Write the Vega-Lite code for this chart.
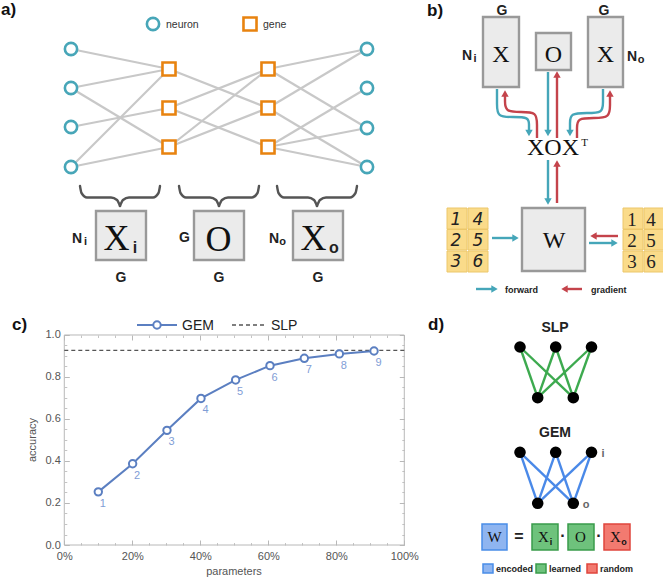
{
"$schema":"https://vega.github.io/schema/vega-lite/v6.json",
"width":663,"height":579,"padding":0,"autosize":"none",
"config":{"view":{"stroke":null},"font":"Liberation Sans"},
"datasets":{
"aEdges":[
{"x":71,"y":49,"x2":169,"y2":69},{"x":71,"y":88,"x2":169,"y2":69},{"x":71,"y":88,"x2":169,"y2":147},{"x":71,"y":127,"x2":169,"y2":108},{"x":71,"y":167,"x2":169,"y2":69},{"x":71,"y":167,"x2":169,"y2":147},
{"x":169,"y":69,"x2":268,"y2":108},{"x":169,"y":108,"x2":268,"y2":69},{"x":169,"y":108,"x2":268,"y2":147},{"x":169,"y":147,"x2":268,"y2":69},{"x":169,"y":147,"x2":268,"y2":108},
{"x":268,"y":69,"x2":367,"y2":49},{"x":268,"y":69,"x2":367,"y2":128},{"x":268,"y":108,"x2":367,"y2":49},{"x":268,"y":108,"x2":367,"y2":167},{"x":268,"y":147,"x2":367,"y2":88},{"x":268,"y":147,"x2":367,"y2":128},{"x":268,"y":147,"x2":367,"y2":167}],
"neurons":[{"x":71,"y":49},{"x":71,"y":88},{"x":71,"y":127},{"x":71,"y":167},{"x":367,"y":49},{"x":367,"y":88},{"x":367,"y":128},{"x":367,"y":167},{"x":153,"y":24}],
"genes":[{"x":169,"y":69},{"x":169,"y":108},{"x":169,"y":147},{"x":268,"y":69},{"x":268,"y":108},{"x":268,"y":147},{"x":250,"y":24}],
"braces":[
{"id":"1L","i":0,"x":80,"y":186},{"id":"1L","i":1,"x":81.5,"y":193},{"id":"1L","i":2,"x":87,"y":197.5},{"id":"1L","i":3,"x":111,"y":197.5},{"id":"1L","i":4,"x":117,"y":200},{"id":"1L","i":5,"x":120,"y":206},
{"id":"1R","i":0,"x":120,"y":206},{"id":"1R","i":1,"x":123,"y":200},{"id":"1R","i":2,"x":129,"y":197.5},{"id":"1R","i":3,"x":153,"y":197.5},{"id":"1R","i":4,"x":158.5,"y":193},{"id":"1R","i":5,"x":160,"y":186},
{"id":"2L","i":0,"x":179,"y":186},{"id":"2L","i":1,"x":180.5,"y":193},{"id":"2L","i":2,"x":186,"y":197.5},{"id":"2L","i":3,"x":210,"y":197.5},{"id":"2L","i":4,"x":216,"y":200},{"id":"2L","i":5,"x":219,"y":206},
{"id":"2R","i":0,"x":219,"y":206},{"id":"2R","i":1,"x":222,"y":200},{"id":"2R","i":2,"x":228,"y":197.5},{"id":"2R","i":3,"x":252,"y":197.5},{"id":"2R","i":4,"x":257.5,"y":193},{"id":"2R","i":5,"x":259,"y":186},
{"id":"3L","i":0,"x":277,"y":186},{"id":"3L","i":1,"x":278.5,"y":193},{"id":"3L","i":2,"x":284,"y":197.5},{"id":"3L","i":3,"x":308,"y":197.5},{"id":"3L","i":4,"x":314,"y":200},{"id":"3L","i":5,"x":317,"y":206},
{"id":"3R","i":0,"x":317,"y":206},{"id":"3R","i":1,"x":320,"y":200},{"id":"3R","i":2,"x":326,"y":197.5},{"id":"3R","i":3,"x":350,"y":197.5},{"id":"3R","i":4,"x":355.5,"y":193},{"id":"3R","i":5,"x":357,"y":186}],
"boxes":[{"x":96,"x2":146,"y":211,"y2":260},{"x":194,"x2":244,"y":211,"y2":260},{"x":293,"x2":343,"y":211,"y2":260},
{"x":483,"x2":519,"y":17,"y2":87},{"x":536,"x2":571,"y":33,"y2":70},{"x":588,"x2":623,"y":17,"y2":87},{"x":522,"x2":585,"y":208,"y2":271}],
"cells":[{"x":447,"x2":467,"y":208,"y2":229},{"x":468,"x2":488,"y":208,"y2":229},{"x":447,"x2":467,"y":229.5,"y2":250},{"x":468,"x2":488,"y":229.5,"y2":250},{"x":447,"x2":467,"y":251,"y2":272},{"x":468,"x2":488,"y":251,"y2":272},
{"x":623,"x2":643,"y":208,"y2":229},{"x":644,"x2":664,"y":208,"y2":229},{"x":623,"x2":643,"y":229.5,"y2":250},{"x":644,"x2":664,"y":229.5,"y2":250},{"x":623,"x2":643,"y":251,"y2":272},{"x":644,"x2":664,"y":251,"y2":272}],
"digitsL":[{"x":456,"y":225,"t":"1"},{"x":478,"y":225,"t":"4"},{"x":456,"y":246,"t":"2"},{"x":478,"y":246,"t":"5"},{"x":456,"y":267,"t":"3"},{"x":478,"y":267,"t":"6"}],
"digitsR":[{"x":632,"y":226,"t":"1"},{"x":651,"y":226,"t":"4"},{"x":632,"y":247,"t":"2"},{"x":651,"y":247,"t":"5"},{"x":632,"y":268,"t":"3"},{"x":651,"y":268,"t":"6"}],
"arrowsF":[
{"id":"f1","i":0,"x":497,"y":89},{"id":"f1","i":1,"x":497,"y":104},{"id":"f1","i":2,"x":497,"y":117},{"id":"f1","i":3,"x":513,"y":117},{"id":"f1","i":4,"x":529,"y":117},{"id":"f1","i":5,"x":529,"y":125},{"id":"f1","i":6,"x":529,"y":130},
{"id":"f2","i":0,"x":548,"y":72},{"id":"f2","i":1,"x":548,"y":130},
{"id":"f3","i":0,"x":603,"y":89},{"id":"f3","i":1,"x":603,"y":102},{"id":"f3","i":2,"x":603,"y":113},{"id":"f3","i":3,"x":587,"y":113},{"id":"f3","i":4,"x":570,"y":113},{"id":"f3","i":5,"x":570,"y":124},{"id":"f3","i":6,"x":570,"y":130},
{"id":"f4","i":0,"x":548,"y":160},{"id":"f4","i":1,"x":548,"y":199},
{"id":"f5","i":0,"x":492,"y":238},{"id":"f5","i":1,"x":513,"y":238},
{"id":"f6","i":0,"x":589,"y":243},{"id":"f6","i":1,"x":612,"y":243},
{"id":"f7","i":0,"x":476,"y":289},{"id":"f7","i":1,"x":492,"y":289}],
"arrowsG":[
{"id":"g1","i":0,"x":537,"y":138},{"id":"g1","i":1,"x":537,"y":125},{"id":"g1","i":2,"x":537,"y":112},{"id":"g1","i":3,"x":521,"y":112},{"id":"g1","i":4,"x":505,"y":112},{"id":"g1","i":5,"x":505,"y":100},{"id":"g1","i":6,"x":505,"y":96},
{"id":"g2","i":0,"x":557,"y":138},{"id":"g2","i":1,"x":557,"y":77},
{"id":"g3","i":0,"x":577,"y":138},{"id":"g3","i":1,"x":577,"y":128},{"id":"g3","i":2,"x":577,"y":118},{"id":"g3","i":3,"x":594,"y":118},{"id":"g3","i":4,"x":610,"y":118},{"id":"g3","i":5,"x":610,"y":104},{"id":"g3","i":6,"x":610,"y":96},
{"id":"g4","i":0,"x":557,"y":203},{"id":"g4","i":1,"x":557,"y":166},
{"id":"g5","i":0,"x":618,"y":236},{"id":"g5","i":1,"x":596,"y":236},
{"id":"g6","i":0,"x":582,"y":289},{"id":"g6","i":1,"x":567,"y":289}],
"headsF":[{"x":529,"y":133,"s":"down"},{"x":548,"y":133,"s":"down"},{"x":570,"y":133,"s":"down"},{"x":548,"y":201.5,"s":"down"},{"x":515.5,"y":238,"s":"right"},{"x":614.5,"y":243,"s":"right"},{"x":494.5,"y":289,"s":"right"}],
"headsG":[{"x":505,"y":93.5,"s":"up"},{"x":557,"y":74.5,"s":"up"},{"x":610,"y":93.5,"s":"up"},{"x":557,"y":163.5,"s":"up"},{"x":593.5,"y":236,"s":"left"},{"x":564.5,"y":289,"s":"left"}],
"dNodes":[{"x":520,"y":347},{"x":555.7,"y":347},{"x":591.5,"y":347},{"x":537.7,"y":397.7},{"x":573.3,"y":397.7},{"x":520,"y":452.3},{"x":555.7,"y":452.3},{"x":591.5,"y":452.3},{"x":537.7,"y":503.3},{"x":573.3,"y":503.3}],
"dEdgesG":[{"x":520,"y":347,"x2":537.7,"y2":397.7},{"x":520,"y":347,"x2":573.3,"y2":397.7},{"x":555.7,"y":347,"x2":537.7,"y2":397.7},{"x":555.7,"y":347,"x2":573.3,"y2":397.7},{"x":591.5,"y":347,"x2":537.7,"y2":397.7},{"x":591.5,"y":347,"x2":573.3,"y2":397.7}],
"dEdgesB":[{"x":520,"y":452.3,"x2":537.7,"y2":503.3},{"x":520,"y":452.3,"x2":573.3,"y2":503.3},{"x":555.7,"y":452.3,"x2":537.7,"y2":503.3},{"x":555.7,"y":452.3,"x2":573.3,"y2":503.3},{"x":591.5,"y":452.3,"x2":537.7,"y2":503.3},{"x":591.5,"y":452.3,"x2":573.3,"y2":503.3}],
"eqB":[{"x":482,"x2":507,"y":524,"y2":550},{"x":483,"x2":493,"y":564,"y2":573}],
"eqG":[{"x":532,"x2":558,"y":524,"y2":550},{"x":568,"x2":594,"y":524,"y2":550},{"x":536,"x2":546,"y":564,"y2":573}],
"eqR":[{"x":604,"x2":630,"y":524,"y2":550},{"x":587,"x2":597,"y":564,"y2":573}],
"tLetters":[{"x":1,"y":15,"t":"a)"},{"x":427,"y":16,"t":"b)"},{"x":12,"y":330,"t":"c)"},{"x":428,"y":330,"t":"d)"}],
"tBold14":[{"x":77,"y":243,"t":"N"},{"x":184.5,"y":242,"t":"G"},{"x":274,"y":243,"t":"N"},{"x":121,"y":282,"t":"G"},{"x":219,"y":282,"t":"G"},{"x":318,"y":282,"t":"G"},{"x":502,"y":15,"t":"G"},{"x":604,"y":15,"t":"G"},{"x":467,"y":60,"t":"N"},{"x":632,"y":61,"t":"N"},{"x":555,"y":332,"t":"SLP"},{"x":555,"y":437,"t":"GEM"}],
"tSub11":[{"x":85.5,"y":245,"t":"i"},{"x":282.5,"y":245,"t":"o"},{"x":475,"y":62,"t":"i"},{"x":641,"y":63,"t":"o"}],
"tSub16":[{"x":135,"y":253,"t":"i"},{"x":334,"y":253,"t":"o"}],
"tSerif36":[{"x":116.5,"y":250,"t":"X"},{"x":218.5,"y":251,"t":"O"},{"x":313.5,"y":250,"t":"X"}],
"tSerif24":[{"x":501,"y":62,"t":"X"},{"x":553.5,"y":62,"t":"O"},{"x":605.5,"y":62,"t":"X"},{"x":553,"y":155,"t":"XOX"},{"x":554,"y":248,"t":"W"}],
"tSup":[{"x":584.5,"y":146,"t":"T"}],
"tSerif15":[{"x":494.5,"y":542,"t":"W"},{"x":543.5,"y":542,"t":"X"},{"x":580.5,"y":542,"t":"O"},{"x":615.5,"y":542,"t":"X"}],
"tSub9":[{"x":551,"y":545,"t":"i"},{"x":624,"y":545,"t":"o"}],
"tOps":[{"x":519,"y":542,"t":"="},{"x":563,"y":541,"t":"·"},{"x":599,"y":541,"t":"·"}],
"tLegA":[{"x":166,"y":28,"t":"neuron"},{"x":263,"y":28,"t":"gene"}],
"tBold9":[{"x":505,"y":293,"t":"forward"},{"x":591,"y":293,"t":"gradient"},{"x":496,"y":572,"t":"encoded"},{"x":549,"y":572,"t":"learned"},{"x":600,"y":572,"t":"random"}],
"tGray":[{"x":603,"y":457,"t":"i"},{"x":586,"y":508,"t":"o"}],
"tLegC":[{"x":182,"y":330,"t":"GEM"},{"x":271,"y":330,"t":"SLP"}],
"tXTitle":[{"x":234,"y":575,"t":"parameters"}],
"tYTitle":[{"x":33,"y":440,"t":"accuracy"}],
"legLine":[{"x":137,"y":325,"x2":177,"y2":325}],
"legPt":[{"x":157,"y":325}],
"legDash":[{"x":232,"y":325,"x2":266,"y2":325}],
"gem":[{"n":1,"p":10,"acc":0.253},{"n":2,"p":20.1,"acc":0.387},{"n":3,"p":30.2,"acc":0.546},{"n":4,"p":40.2,"acc":0.698},{"n":5,"p":50.4,"acc":0.786},{"n":6,"p":60.5,"acc":0.854},{"n":7,"p":70.6,"acc":0.889},{"n":8,"p":80.9,"acc":0.91},{"n":9,"p":91.1,"acc":0.924}],
"slp":[{"a":0,"b":100,"acc":0.927}],
"frame":[{"a":0,"b":100,"c":0,"d":1}]
},
"layer":[
{
"encoding":{
"x":{"field":"x","type":"quantitative","scale":{"domain":[0,663],"nice":false,"zero":false},"axis":null},
"y":{"field":"y","type":"quantitative","scale":{"domain":[0,579],"nice":false,"zero":false,"reverse":true},"axis":null}
},
"layer":[
{"data":{"name":"aEdges"},"mark":{"type":"rule","color":"#c8c8c8","strokeWidth":2.2},"encoding":{"x2":{"field":"x2"},"y2":{"field":"y2"}}},
{"data":{"name":"neurons"},"mark":{"type":"point","shape":"circle","filled":true,"fill":"white","stroke":"#47a6b8","strokeWidth":2.6,"size":150,"opacity":1}},
{"data":{"name":"genes"},"mark":{"type":"point","shape":"square","filled":true,"fill":"white","stroke":"#e8830f","strokeWidth":2.6,"size":170,"opacity":1}},
{"data":{"name":"braces"},"mark":{"type":"line","color":"#555555","strokeWidth":2.4,"interpolate":"monotone","strokeCap":"round"},"encoding":{"detail":{"field":"id"},"order":{"field":"i"}}},
{"data":{"name":"boxes"},"mark":{"type":"rect","fill":"#ebebeb","stroke":"#999999","strokeWidth":2.4},"encoding":{"x2":{"field":"x2"},"y2":{"field":"y2"}}},
{"data":{"name":"cells"},"mark":{"type":"rect","fill":"#fadb8a","stroke":"#ecc76a","strokeWidth":1},"encoding":{"x2":{"field":"x2"},"y2":{"field":"y2"}}},
{"data":{"name":"digitsL"},"mark":{"type":"text","align":"center","baseline":"alphabetic","font":"DejaVu Sans","fontStyle":"italic","fontSize":17,"color":"#222222"},"encoding":{"text":{"field":"t"}}},
{"data":{"name":"digitsR"},"mark":{"type":"text","align":"center","baseline":"alphabetic","font":"Liberation Serif","fontSize":19,"color":"#222222"},"encoding":{"text":{"field":"t"}}},
{"data":{"name":"arrowsF"},"mark":{"type":"line","color":"#45a6b9","strokeWidth":2.4,"interpolate":"basis"},"encoding":{"detail":{"field":"id"},"order":{"field":"i"}}},
{"data":{"name":"arrowsG"},"mark":{"type":"line","color":"#c4434b","strokeWidth":2.4,"interpolate":"basis"},"encoding":{"detail":{"field":"id"},"order":{"field":"i"}}},
{"data":{"name":"headsF"},"mark":{"type":"point","filled":true,"color":"#45a6b9","size":55,"opacity":1},"encoding":{"shape":{"field":"s","type":"nominal","scale":{"domain":["up","down","left","right"],"range":["triangle-up","triangle-down","triangle-left","triangle-right"]},"legend":null}}},
{"data":{"name":"headsG"},"mark":{"type":"point","filled":true,"color":"#c4434b","size":55,"opacity":1},"encoding":{"shape":{"field":"s","type":"nominal","scale":{"domain":["up","down","left","right"],"range":["triangle-up","triangle-down","triangle-left","triangle-right"]},"legend":null}}},
{"data":{"name":"dEdgesG"},"mark":{"type":"rule","color":"#3daa4f","strokeWidth":2.4},"encoding":{"x2":{"field":"x2"},"y2":{"field":"y2"}}},
{"data":{"name":"dEdgesB"},"mark":{"type":"rule","color":"#4a89e8","strokeWidth":2.4},"encoding":{"x2":{"field":"x2"},"y2":{"field":"y2"}}},
{"data":{"name":"dNodes"},"mark":{"type":"point","shape":"circle","filled":true,"color":"#000000","size":135,"opacity":1}},
{"data":{"name":"eqB"},"mark":{"type":"rect","fill":"#8fb5f0","stroke":"#4a8de8","strokeWidth":1.5},"encoding":{"x2":{"field":"x2"},"y2":{"field":"y2"}}},
{"data":{"name":"eqG"},"mark":{"type":"rect","fill":"#6ec27c","stroke":"#3a9c4b","strokeWidth":1.5},"encoding":{"x2":{"field":"x2"},"y2":{"field":"y2"}}},
{"data":{"name":"eqR"},"mark":{"type":"rect","fill":"#f27a70","stroke":"#e0453d","strokeWidth":1.5},"encoding":{"x2":{"field":"x2"},"y2":{"field":"y2"}}},
{"data":{"name":"legLine"},"mark":{"type":"rule","color":"#5b7fc1","strokeWidth":2},"encoding":{"x2":{"field":"x2"},"y2":{"field":"y2"}}},
{"data":{"name":"legPt"},"mark":{"type":"point","shape":"circle","filled":true,"fill":"white","stroke":"#5b7fc1","strokeWidth":2,"size":55,"opacity":1}},
{"data":{"name":"legDash"},"mark":{"type":"rule","color":"#555555","strokeWidth":1.3,"strokeDash":[4,3]},"encoding":{"x2":{"field":"x2"},"y2":{"field":"y2"}}},
{"data":{"name":"tLetters"},"mark":{"type":"text","align":"left","baseline":"alphabetic","fontSize":17,"fontWeight":"bold","color":"#111111"},"encoding":{"text":{"field":"t"}}},
{"data":{"name":"tBold14"},"mark":{"type":"text","align":"center","baseline":"alphabetic","fontSize":14,"fontWeight":"bold","color":"#222222"},"encoding":{"text":{"field":"t"}}},
{"data":{"name":"tSub11"},"mark":{"type":"text","align":"center","baseline":"alphabetic","fontSize":11,"fontWeight":"bold","color":"#222222"},"encoding":{"text":{"field":"t"}}},
{"data":{"name":"tSub16"},"mark":{"type":"text","align":"center","baseline":"alphabetic","fontSize":16,"fontWeight":"bold","color":"#222222"},"encoding":{"text":{"field":"t"}}},
{"data":{"name":"tSerif36"},"mark":{"type":"text","align":"center","baseline":"alphabetic","font":"Liberation Serif","fontSize":36,"color":"#111111"},"encoding":{"text":{"field":"t"}}},
{"data":{"name":"tSerif24"},"mark":{"type":"text","align":"center","baseline":"alphabetic","font":"Liberation Serif","fontSize":24,"color":"#111111"},"encoding":{"text":{"field":"t"}}},
{"data":{"name":"tSup"},"mark":{"type":"text","align":"center","baseline":"alphabetic","font":"Liberation Serif","fontSize":11,"color":"#111111"},"encoding":{"text":{"field":"t"}}},
{"data":{"name":"tSerif15"},"mark":{"type":"text","align":"center","baseline":"alphabetic","font":"Liberation Serif","fontSize":15,"color":"#111111"},"encoding":{"text":{"field":"t"}}},
{"data":{"name":"tSub9"},"mark":{"type":"text","align":"center","baseline":"alphabetic","fontSize":9,"fontWeight":"bold","color":"#111111"},"encoding":{"text":{"field":"t"}}},
{"data":{"name":"tOps"},"mark":{"type":"text","align":"center","baseline":"alphabetic","fontSize":16,"fontWeight":"bold","color":"#222222"},"encoding":{"text":{"field":"t"}}},
{"data":{"name":"tLegA"},"mark":{"type":"text","align":"left","baseline":"alphabetic","fontSize":10.5,"color":"#333333"},"encoding":{"text":{"field":"t"}}},
{"data":{"name":"tBold9"},"mark":{"type":"text","align":"left","baseline":"alphabetic","fontSize":9,"fontWeight":"bold","color":"#222222"},"encoding":{"text":{"field":"t"}}},
{"data":{"name":"tGray"},"mark":{"type":"text","align":"center","baseline":"alphabetic","fontSize":11,"fontWeight":"bold","color":"#666666"},"encoding":{"text":{"field":"t"}}},
{"data":{"name":"tLegC"},"mark":{"type":"text","align":"left","baseline":"alphabetic","fontSize":14,"color":"#222222"},"encoding":{"text":{"field":"t"}}},
{"data":{"name":"tXTitle"},"mark":{"type":"text","align":"center","baseline":"alphabetic","fontSize":11,"color":"#555555"},"encoding":{"text":{"field":"t"}}},
{"data":{"name":"tYTitle"},"mark":{"type":"text","align":"center","baseline":"middle","angle":270,"fontSize":11,"color":"#555555"},"encoding":{"text":{"field":"t"}}}
]
},
{
"layer":[
{"data":{"name":"frame"},"mark":{"type":"rect","filled":false,"color":"#b8b8b8","strokeWidth":1},
"encoding":{
"x":{"field":"a","type":"quantitative","scale":{"domain":[-18.91,176.09],"nice":false,"zero":false},"axis":{"orient":"bottom","offset":-34,"values":[0,20,40,60,80,100],"labelExpr":"datum.value + '%'","domain":false,"grid":false,"tickSize":-5,"tickColor":"#b8b8b8","labelPadding":10,"labelFontSize":11,"labelColor":"#555555","labelFont":"Liberation Sans","title":null}},
"x2":{"field":"b"},
"y":{"field":"c","type":"quantitative","scale":{"domain":[-0.1619,2.5952],"nice":false,"zero":false},"axis":{"orient":"left","offset":-64.3,"values":[0,0.2,0.4,0.6,0.8,1],"format":".1f","domain":false,"grid":false,"tickSize":-5,"tickColor":"#b8b8b8","labelPadding":9,"labelFontSize":11,"labelColor":"#555555","labelFont":"Liberation Sans","title":null}},
"y2":{"field":"d"}}},
{"data":{"name":"slp"},"mark":{"type":"rule","color":"#555555","strokeWidth":1.3,"strokeDash":[4,3]},
"encoding":{
"x":{"field":"a","type":"quantitative","scale":{"domain":[-18.91,176.09],"nice":false,"zero":false},"axis":{"orient":"top","offset":-335,"values":[0,20,40,60,80,100],"labels":false,"domain":false,"grid":false,"tickSize":-5,"tickColor":"#b8b8b8","title":null}},
"x2":{"field":"b"},
"y":{"field":"acc","type":"quantitative","scale":{"domain":[-0.1619,2.5952],"nice":false,"zero":false},"axis":{"orient":"right","offset":-258.7,"values":[0,0.2,0.4,0.6,0.8,1],"labels":false,"domain":false,"grid":false,"tickSize":-5,"tickColor":"#b8b8b8","title":null}}}},
{"data":{"name":"gem"},"mark":{"type":"line","color":"#5b7fc1","strokeWidth":2},
"encoding":{
"x":{"field":"p","type":"quantitative","scale":{"domain":[-18.91,176.09],"nice":false,"zero":false},"axis":{"orient":"bottom","offset":-34,"values":[5,10,15,25,30,35,45,50,55,65,70,75,85,90,95],"labels":false,"domain":false,"grid":false,"tickSize":-2.5,"tickColor":"#c4c4c4","title":null}},
"y":{"field":"acc","type":"quantitative","scale":{"domain":[-0.1619,2.5952],"nice":false,"zero":false},"axis":{"orient":"left","offset":-64.3,"values":[0.05,0.1,0.15,0.25,0.3,0.35,0.45,0.5,0.55,0.65,0.7,0.75,0.85,0.9,0.95],"labels":false,"domain":false,"grid":false,"tickSize":-2.5,"tickColor":"#c4c4c4","title":null}}}},
{"data":{"name":"gem"},"mark":{"type":"point","shape":"circle","filled":true,"fill":"white","stroke":"#5b7fc1","strokeWidth":2,"size":55,"opacity":1},
"encoding":{
"x":{"field":"p","type":"quantitative","scale":{"domain":[-18.91,176.09],"nice":false,"zero":false},"axis":{"orient":"top","offset":-335,"values":[5,10,15,25,30,35,45,50,55,65,70,75,85,90,95],"labels":false,"domain":false,"grid":false,"tickSize":-2.5,"tickColor":"#c4c4c4","title":null}},
"y":{"field":"acc","type":"quantitative","scale":{"domain":[-0.1619,2.5952],"nice":false,"zero":false},"axis":{"orient":"right","offset":-258.7,"values":[0.05,0.1,0.15,0.25,0.3,0.35,0.45,0.5,0.55,0.65,0.7,0.75,0.85,0.9,0.95],"labels":false,"domain":false,"grid":false,"tickSize":-2.5,"tickColor":"#c4c4c4","title":null}}}},
{"data":{"name":"gem"},"mark":{"type":"text","dx":4.5,"dy":12,"fontSize":11,"color":"#7f9dd6","align":"center","baseline":"middle"},
"encoding":{
"x":{"field":"p","type":"quantitative","scale":{"domain":[-18.91,176.09],"nice":false,"zero":false},"axis":null},
"y":{"field":"acc","type":"quantitative","scale":{"domain":[-0.1619,2.5952],"nice":false,"zero":false},"axis":null},
"text":{"field":"n"}}}
],
"resolve":{"axis":{"x":"independent","y":"independent"}}
}
],
"resolve":{"scale":{"x":"independent","y":"independent"}}
}
